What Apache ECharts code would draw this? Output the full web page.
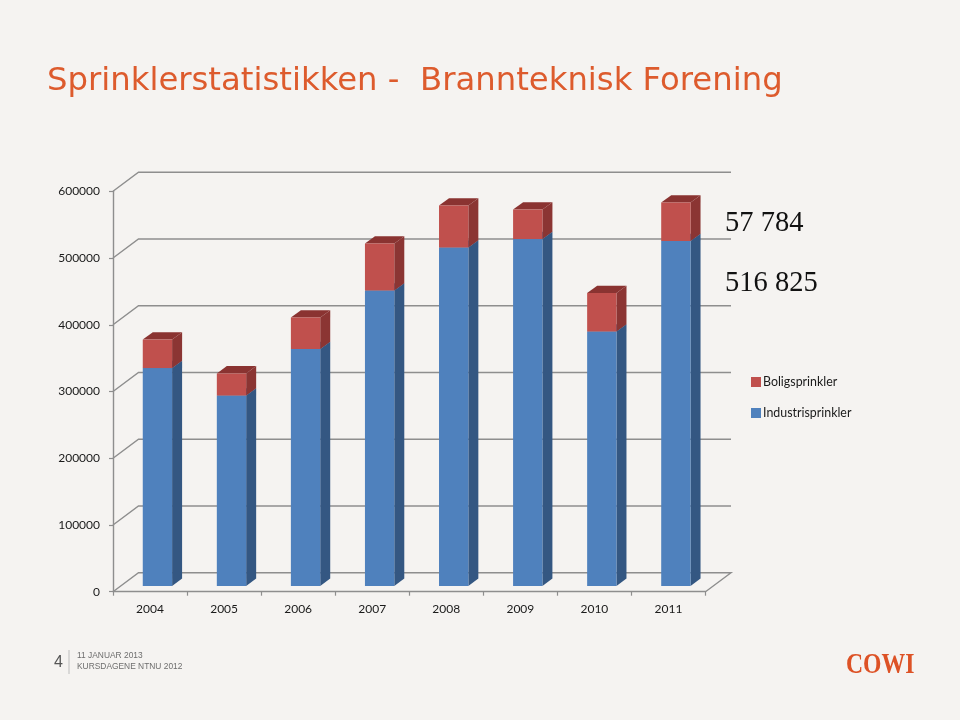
<!DOCTYPE html>
<html><head><meta charset="utf-8">
<style>html,body{margin:0;padding:0;background:#f5f3f1}#c{width:960px;height:720px}</style>
<script src="https://cdn.jsdelivr.net/npm/echarts@6/dist/echarts.min.js"></script>
</head><body><div id="c"></div>
<script>
const categories = ['2004','2005','2006','2007','2008','2009','2010','2011'];
const industri = [326600,285400,355000,442700,507100,519900,381300,516825];
const bolig = [42700,33000,47200,70400,63000,44200,57700,57784];
const yTicks = [0,100000,200000,300000,400000,500000,600000];

const BLUE=['#4f81bd','#345782','#3d6595'], RED=['#c0504d','#8b3533','#8a3331'];
const AXIS='#8e8e8e';
const wallDX=25.5, wallDY=-19, barDX=7.4, barDY=-5.7, depthX=10, depthY=-7.4;

function wallItem(params, api){
  const cs=params.coordSys, y=api.coord([0,api.value(0)])[1];
  const x0=cs.x, x1=cs.x+cs.width;
  const pts=[[x0,y],[x0+wallDX,y+wallDY],[x1+wallDX,y+wallDY]];
  if(api.value(0)===0) pts.push([x1,y]);
  return {type:'polyline',silent:true,shape:{points:pts},style:{fill:null,stroke:AXIS,lineWidth:1.4}};
}
function boxItem(cols){
  return function(params, api){
    const i=api.value(0), lo=api.coord([i,api.value(1)]), hi=api.coord([i,api.value(2)]);
    const w=api.size([1,0])[0]*0.396;
    const xl=lo[0]+barDX-w/2, xr=xl+w, yb=lo[1]+barDY, yt=hi[1]+barDY;
    return {type:'group',children:[
      {type:'polygon',shape:{points:[[xl,yt],[xl+depthX,yt+depthY],[xr+depthX,yt+depthY],[xr,yt]]},style:{fill:cols[2]}},
      {type:'polygon',shape:{points:[[xr,yb],[xr+depthX,yb+depthY],[xr+depthX,yt+depthY],[xr,yt]]},style:{fill:cols[1]}},
      {type:'rect',shape:{x:xl,y:yt,width:w,height:yb-yt},style:{fill:cols[0]}}
    ]};
  };
}
const blueData=categories.map((c,i)=>[i,0,industri[i]]);
const redData=categories.map((c,i)=>[i,industri[i],industri[i]+bolig[i]]);

const chart=echarts.init(document.getElementById('c'),null,{renderer:'canvas'});
chart.setOption({
  animation:false,
  backgroundColor:'#f5f3f1',
  textStyle:{fontFamily:'Lato'},
  grid:{left:113,top:191.3,width:592.5,height:400.4,containLabel:false},
  xAxis:{type:'category',data:categories,boundaryGap:true,
    axisLine:{lineStyle:{color:AXIS,width:1.4}},
    axisTick:{show:true,alignWithLabel:false,length:4,lineStyle:{color:AXIS,width:1.2}},
    axisLabel:{color:'#1a1a1a',fontSize:12,fontFamily:'Lato',margin:11},splitLine:{show:false}},
  yAxis:{type:'value',min:0,max:600000,interval:100000,
    axisLine:{show:true,lineStyle:{color:AXIS,width:1.4}},
    axisTick:{show:true,length:4,lineStyle:{color:AXIS,width:1.2}},
    axisLabel:{color:'#1a1a1a',fontSize:12,fontFamily:'Lato',margin:13,padding:[3,0,0,0],formatter:v=>String(v)},splitLine:{show:false}},
  legend:{show:true,orient:'vertical',left:751,top:376,padding:0,itemGap:19,itemWidth:10,itemHeight:10,icon:'rect',
    data:['Boligsprinkler','Industrisprinkler'],
    textStyle:{color:'#1a1a1a',fontSize:12.4,fontFamily:'Lato',padding:[0,0,0,-3]}},
  series:[
    {type:'custom',name:'wall',silent:true,data:yTicks.map(v=>[v]),renderItem:wallItem,encode:{y:0},z:1,clip:false},
    {type:'custom',name:'Industrisprinkler',data:blueData,renderItem:boxItem(BLUE),encode:{x:0,y:[1,2]},itemStyle:{color:BLUE[0]},z:3,clip:false},
    {type:'custom',name:'Boligsprinkler',data:redData,renderItem:boxItem(RED),encode:{x:0,y:[1,2]},itemStyle:{color:RED[0]},z:3,clip:false}
  ],
  graphic:[
    {type:'text',left:47,top:66,style:{text:'Sprinklerstatistikken -  Brannteknisk Forening',fill:'#dd5b2d',font:'32.3px "DejaVu Sans"'}},
    {type:'text',left:725,top:209,style:{text:'57 784',fill:'#111',font:'28.5px "Liberation Serif"'}},
    {type:'text',left:725,top:269,style:{text:'516 825',fill:'#111',font:'28.5px "Liberation Serif"'}},
    {type:'text',left:54,top:655,style:{text:'4',fill:'#555',font:'16px "Liberation Sans"'}},
    {type:'rect',shape:{x:68.5,y:650,width:1,height:24},style:{fill:'#bdbdbd'}},
    {type:'text',x:77,y:650,scaleX:0.875,style:{text:'11 JANUAR 2013',fill:'#6e6e6e',font:'9.6px "Liberation Sans"'}},
    {type:'text',x:77,y:661,scaleX:0.875,style:{text:'KURSDAGENE NTNU 2012',fill:'#6e6e6e',font:'9.6px "Liberation Sans"'}},
    {type:'text',x:846,y:650,scaleX:0.79,style:{text:'COWI',fill:'#dd5226',font:'bold 30px "Liberation Serif"'}}
  ]
});
</script></body></html>
